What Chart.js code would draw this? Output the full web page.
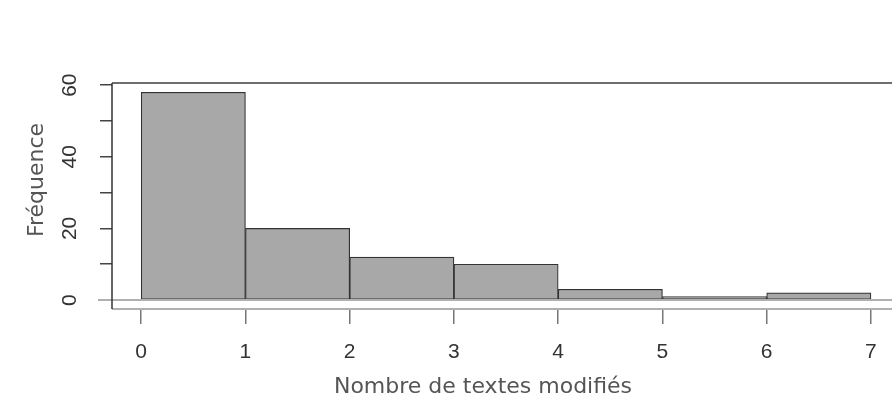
<!DOCTYPE html>
<html>
<head>
<meta charset="utf-8">
<script src="https://cdn.jsdelivr.net/npm/chart.js@4/dist/chart.umd.min.js"></script>
<style>
  html, body { margin: 0; padding: 0; background: #fff; overflow: hidden; }
  #histo { display: block; }
</style>
</head>
<body>
<canvas id="histo" width="900" height="399"></canvas>
<script>
// histogram bins (lower edge) and counts
const binStarts = [0, 1, 2, 3, 4, 5, 6];
const counts = [58, 20, 12, 10, 3, 1, 2];
const xTitle = "Nombre de textes modifiés";
const yTitle = "Fréquence";

let tickFont = { family: "'Liberation Sans', Arial, sans-serif", size: 21 };
let titleFont = "22px 'DejaVu Sans', Verdana, sans-serif";

// box, zero line and axis titles, R style
const rFrame = {
    id: "rFrame",
    afterDatasetsDraw(chart) {
        const ctx = chart.ctx;
        const a = chart.chartArea;
        const y0 = chart.scales.y.getPixelForValue(0);
        ctx.save();
        ctx.lineWidth = 2;
        ctx.strokeStyle = "#b0b0b0";
        ctx.beginPath();
        ctx.moveTo(98, y0);
        ctx.lineTo(chart.width, y0);
        ctx.moveTo(a.left, a.bottom);
        ctx.lineTo(chart.width, a.bottom);
        ctx.stroke();
        ctx.strokeStyle = "#6e6e6e";
        ctx.beginPath();
        ctx.moveTo(a.left, a.top);
        ctx.lineTo(chart.width, a.top);
        ctx.stroke();
        ctx.lineWidth = 1.5;
        ctx.strokeStyle = "#333";
        ctx.beginPath();
        ctx.moveTo(a.left, a.top);
        ctx.lineTo(a.left, a.bottom);
        ctx.stroke();

        ctx.font = titleFont;
        ctx.fillStyle = "#555";
        ctx.textAlign = "center";
        ctx.textBaseline = "middle";
        ctx.fillText(xTitle, 483, 387);
        ctx.translate(37, 180);
        ctx.rotate(-Math.PI / 2);
        ctx.fillText(yTitle, 0, 0);
        ctx.restore();
    }
};

let histoChart = new Chart(document.getElementById("histo"), {
    type: "bar",
    data: {
        datasets: [{
            data: binStarts.map((b, i) => ({ x: b + 0.5, y: counts[i] })),
            backgroundColor: "#a8a8a8",
            borderColor: "#333",
            borderWidth: 1.2,
            borderSkipped: false,
            barPercentage: 1,
            categoryPercentage: 1
        }]
    },
    options: {
        responsive: false,
        animation: false,
        devicePixelRatio: 1,
        layout: { padding: { top: 83, right: 3, left: 0, bottom: 0 } },
        plugins: { legend: { display: false }, tooltip: { enabled: false } },
        scales: {
            x: {
                type: "linear",
                min: -0.28,
                max: 7.25,
                offset: false,
                afterFit: s => { s.height = 90; },
                border: { display: false },
                grid: { offset: false, drawOnChartArea: false, tickLength: 15, color: "#777", lineWidth: 1.5 },
                ticks: { stepSize: 1, includeBounds: false, font: tickFont, color: "#333", padding: 16 }
            },
            y: {
                min: -2.5,
                max: 60.6,
                afterFit: s => { s.width = 112; },
                border: { display: false },
                grid: { drawOnChartArea: false, tickLength: 12, color: "#444", lineWidth: 1.5 },
                ticks: {
                    stepSize: 10,
                    includeBounds: false,
                    minRotation: 90,
                    maxRotation: 90,
                    crossAlign: "center",
                    font: tickFont,
                    color: "#333",
                    padding: 18,
                    callback: v => (v % 20 === 0 ? v : "")
                }
            }
        }
    },
    plugins: [rFrame]
});
</script>
</body>
</html>
